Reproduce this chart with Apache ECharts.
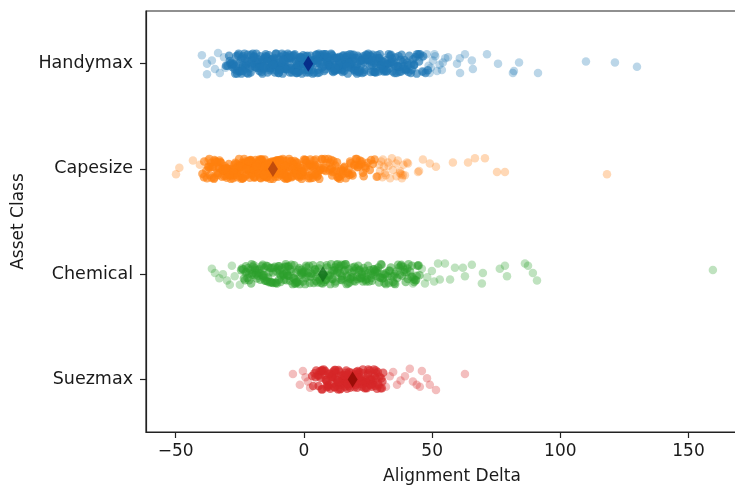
<!DOCTYPE html>
<html>
<head>
<meta charset="utf-8">
<script src="https://cdn.jsdelivr.net/npm/echarts@6/dist/echarts.min.js"></script>
<style>
html,body{margin:0;padding:0;background:#fff;}
#chart{width:735px;height:486px;}
</style>
</head>
<body>
<div id="chart"></div>
<script>
// ---- data ----
const categories = ['Handymax', 'Capesize', 'Chemical', 'Suezmax'];
const meanValues = [1.7, -12.1, 7.4, 19.0];
const xTicks = [-50, 0, 50, 100, 150];

// dense strips (Alignment Delta values)
const handymax = [
  12.4,-7.9,31.6,-22.3,3.7,18.9,-13.5,40.2,-1.8,25.1,
  -27.4,8.6,-4.3,35.8,15.2,-18.7,0.9,22.6,-10.4,44.1,
  6.3,-25.9,29.4,-8.8,13.7,-16.2,38.5,2.2,-20.6,19.8,
  -3.1,27.7,-12.9,10.5,-29.2,33.3,4.8,-6.6,16.9,-23.8,
  41.7,-0.4,21.3,-14.8,9.1,46.2,-19.9,28.2,-5.2,14.6,
  -26.5,36.9,1.6,-11.3,24.4,-9.7,7.4,32.9,-17.4,11.8,
  -2.6,43.5,-21.7,17.6,-8.1,26.8,5.5,-15.6,37.2,-24.6,
  20.5,-6.9,13.1,-28.3,30.7,-3.9,9.8,47.4,-12.1,23.9,
  -18.3,3.0,34.6,-10.8,15.9,-1.1,39.8,-22.9,8.0,26.1,
  -14.2,19.2,-7.3,45.3,0.3,-25.1,12.9,29.9,-4.7,17.1,
  6.9,-16.9,33.9,-9.2,22.0,-2.3,42.6,-20.1,11.2,-13.0,
  27.3,-0.9,15.4,-27.9,36.1,4.1,-6.1,18.4,-11.8,31.1,
  -23.2,10.2,24.9,-4.0,38.9,-15.0,2.8,21.7,-8.4,13.9,
  44.7,-19.3,7.9,29.0,-1.4,16.4,-26.8,34.1,-10.0,5.0,
  19.5,-5.8,40.8,-13.9,25.6,1.3,-21.2,11.5,-7.0,28.6,
  -17.1,35.3,-2.0,14.3,-24.0,9.4,32.2,-11.0,20.9,-0.1,
  48.3,-9.5,23.2,-16.4,6.0,37.7,-3.4,17.9,-28.7,12.1,
  -6.4,26.4,-14.5,3.4,30.2,-19.0,10.8,42.0,-22.1,15.0,
  1.9,-12.6,21.0,-4.5,33.6,8.3,-25.7,18.1,-9.9,39.3,
  -1.0,13.3,-18.0,27.0,5.8,-7.6,24.0,-13.2,36.5,0.6,
  3.5,-20.8,16.2,-9.4,29.6,-2.8,11.1,-15.3,22.3,7.2,
  -24.4,34.9,-6.8,19.4,0.1,-12.3,27.5,-17.8,9.9,41.1,
  -4.9,14.0,-27.0,24.7,-10.6,5.3,31.9,-1.6,17.3,-21.5,
  37.9,-8.6,12.7,-14.0,21.9,2.5,-23.6,28.9,-5.5,10.0,
  -18.4,33.0,-0.7,15.7,-11.6,43.0,6.6,-26.1,23.4,-7.7,
  18.6,-3.7,30.4,-16.6,8.9,-29.8,25.9,-9.0,13.6,39.9,
  -13.7,1.0,22.8,-20.4,35.6,-5.0,16.6,-24.9,10.6,-1.2,
  27.9,-10.9,7.6,-19.6,44.9,3.9,-7.2,20.3,-14.9,32.6,
  -2.4,12.5,-22.6,26.5,-8.3,17.5,-28.0,38.1,1.4,-12.8,
  23.5,-16.0,9.6,-4.2,30.9,-25.3,14.8,-0.3,40.6,-9.8,
  5.6,-19.7,28.3,-11.4,19.9,-6.3,35.0,-23.0,11.9,-2.1,
  46.5,-14.4,2.0,24.5,-17.3,8.5,-27.6,31.5,-5.3,16.0,
  -9.1,20.7,-1.9,37.3,-21.9,13.0,-12.5,26.0,4.5,-30.4,
  33.7,-7.5,18.2,-15.8,6.2,42.9,-3.0,22.4,-24.2,10.4,
  -0.6,29.2,-18.6,14.5,-10.3,1.7,36.8,-26.4,19.0,-4.6,
  25.2,-13.4,8.1,-20.5,32.3,-6.0,15.6,-1.5,44.0,-8.9,
  -16.3,4.7,23.7,-28.9,11.4,-11.9,30.0,2.6,-22.8,17.7,
  39.0,-5.7,13.5,-2.7,26.7,-19.1,7.0,-14.1,21.1,-25.5,
  0.0,34.3,-9.6,16.8,-17.0,5.2,28.0,-7.9,12.2,-3.6,
  41.9,-23.9,20.1,-12.0,9.2,-0.8,31.3,-15.7,24.2,3.2
];
const capesize = [
  -22.4,-8.1,-31.7,2.6,-15.9,-36.2,-3.8,-26.5,-11.2,6.9,
  -18.6,-29.3,-0.7,-13.4,-38.9,-6.2,-21.1,4.3,-33.5,-16.7,
  -9.5,-25.0,8.8,-19.8,-2.9,-35.1,-12.6,-27.8,0.4,-7.3,
  -30.9,-14.8,-23.6,5.7,-17.2,-39.6,-4.6,-20.3,-10.0,-28.7,
  1.8,-24.1,-13.9,-34.0,-6.9,-16.1,9.5,-31.2,-19.0,-1.5,
  -26.0,-11.7,-37.4,3.5,-22.9,-8.7,-15.3,-29.9,-5.1,-18.1,
  7.6,-32.6,-12.1,-24.7,-0.2,-20.8,-36.7,-9.0,-14.2,-27.1,
  -3.3,-17.7,4.9,-30.2,-21.6,-10.6,-38.1,-6.4,-25.6,0.9,
  -13.0,-33.1,-19.4,8.2,-23.2,-4.1,-28.3,-15.0,-11.0,-35.7,
  -7.8,2.1,-26.9,-16.4,-31.9,-2.4,-20.0,6.3,-12.9,-24.4,
  -37.0,-9.8,-18.9,-29.0,3.0,-14.6,-22.1,-5.6,-34.6,-10.3,
  -1.1,-27.4,-16.9,9.9,-23.9,-7.0,-32.3,-13.6,-19.6,5.1,
  -25.3,-3.5,-15.6,-30.5,-8.4,-21.4,1.2,-36.0,-11.9,-17.9,
  7.1,-28.0,-6.6,-22.6,-14.0,-33.8,-0.9,-19.2,-26.2,-9.2,
  -16.0,4.0,-39.0,-12.3,-24.9,-4.9,-29.6,-18.4,2.9,-10.7,
  -14.4,-27.7,1.4,-20.5,-6.0,-33.2,-10.1,-23.3,-2.1,-17.5,
  5.4,-29.1,-12.5,-36.4,-19.3,-7.5,-25.2,0.0,-15.4,-31.0,
  -4.4,-21.8,-11.5,-28.5,3.7,-16.6,-34.9,-8.9,-24.0,-1.8,
  -18.8,-30.7,-6.8,-13.2,6.5,-26.6,-21.0,-3.0,-37.8,-10.4,
  -22.7,-0.5,-15.8,-32.0,-8.2,-19.9,2.4,-27.3,-12.8,-5.3,
  -35.4,-17.0,-24.6,-9.6,4.6,-29.4,-14.9,-2.6,-21.3,-11.4,
  -7.1,-25.8,-18.5,0.7,-33.6,-13.7,-4.8,-22.2,8.5,-16.3,
  -28.6,-10.9,-1.3,-20.7,-31.4,-6.3,-15.1,-24.3,3.2,-12.0,
  -19.0,-36.9,-8.6,-26.3,-0.1,-14.5,-22.8,5.9,-30.1,-4.0,
  -11.3,-17.4,-27.0,1.9,-23.7,-9.3,-34.3,-13.1,-2.0,-20.2,
  10.7,-15.7,-25.4,-6.7,-18.2,-29.8,-3.6,-11.8,-21.9,4.4,
  -32.9,-9.9,-16.8,-1.6,-26.8,-13.3,7.8,-23.1,-5.8,-19.5,
  -14.1,-28.9,-0.8,-10.2,-24.8,-35.0,-7.9,-17.8,2.5,-22.5,
  -4.5,-12.7,-31.5,-20.4,6.0,-16.2,-27.5,-9.4,-2.7,-18.7,
  -25.9,-13.8,0.2,-21.7,-8.0,-30.6,-15.5,3.9,-11.6,-23.8,
  12.3,24.8,17.1,10.9,28.4,20.2,14.6,26.9,
  19.0,11.7,22.5,15.8,13.4,21.6,
  16.5,27.6,10.4,23.3,18.2,25.7,12.9,
  14.0,20.9,11.3,26.2,17.8,23.9,
  13.1,19.6,15.2,11.5,18.7,24.1,14.9,21.8,12.6,16.3,19.8,
  10.1,23.0,15.5,13.7,20.6,17.4,22.4,11.0,14.3,18.0,21.1
];
const chemical = [
  8.4,-14.7,27.9,-3.2,19.6,-21.8,36.4,1.5,-9.1,13.2,
  31.7,-17.5,4.6,42.3,-6.3,22.8,-12.0,16.0,-23.4,38.0,
  -0.6,25.4,-19.1,10.1,33.9,-4.4,18.7,-15.9,44.6,6.2,
  -10.7,29.3,-2.2,14.8,-22.6,40.5,2.9,-7.7,21.2,-16.3,
  35.2,11.9,-13.3,26.3,-0.1,43.0,-20.4,7.5,17.4,-5.5,
  23.6,-11.4,39.1,3.8,-18.2,30.6,12.6,-8.3,20.0,-24.2,
  9.3,37.1,-1.7,28.5,-14.0,15.5,-6.9,41.4,5.3,-20.9,
  32.6,-9.6,18.0,-16.8,24.1,0.8,44.0,-3.6,11.0,-12.7,
  -22.0,14.1,34.8,-7.1,26.8,4.2,-15.2,19.1,38.6,-0.3,
  6.7,-18.9,22.2,-4.9,31.0,12.4,-10.2,45.1,1.0,16.6,
  -13.6,29.8,8.9,-23.0,36.0,-2.7,21.7,-8.9,13.8,42.8,
  3.3,-17.0,25.0,-5.9,17.2,33.2,-11.9,7.0,-20.0,39.7,
  10.6,-1.3,27.1,-14.4,20.6,-7.4,40.0,2.3,-24.5,15.0,
  30.3,-9.3,23.0,5.9,-16.0,12.0,35.6,-3.0,18.4,-19.6,
  43.7,0.2,-12.4,28.1,9.7,-6.0,24.6,-21.3,14.4,37.8,
  16.9,-10.5,33.5,-1.9,22.5,-17.7,8.0,40.8,-6.5,27.4,
  -14.9,4.9,19.8,-22.4,31.4,11.6,-3.9,36.7,-8.0,24.3,
  13.5,-19.3,29.0,0.5,-12.1,21.9,6.4,43.4,-5.1,17.8,
  -0.9,34.2,-16.5,10.9,26.1,-9.8,2.0,38.3,-20.6,15.7,
  23.3,-4.1,12.8,-13.9,30.0,7.8,-23.7,19.4,41.9,-7.0,
  5.0,-11.1,25.8,-18.4,14.6,35.4,-2.4,20.4,-15.6,9.0,
  32.0,-6.7,17.0,3.5,-21.4,28.8,-10.9,39.3,1.8,-14.2,
  11.3,24.9,-3.3,44.3,-17.9,7.3,21.5,-8.6,30.8,-1.0,
  -12.9,16.3,37.4,-5.3,26.6,2.6,-19.8,13.1,33.1,-9.5,
  6.0,-16.1,22.6,-0.4,40.3,-7.8,18.9,10.3,-22.8,29.6,
  -3.8,14.9,27.7,-13.1,4.4,35.0,-10.0,20.8,-18.6,8.6,
  42.1,-6.2,12.2,23.8,-15.4,0.6,31.9,-2.9,16.1,-20.3
];
const suezmax = [
  14.2,6.8,22.9,10.3,27.6,4.1,18.5,30.2,12.0,25.1,
  8.7,20.4,3.6,16.1,28.8,11.4,23.7,5.9,19.3,13.5,
  26.4,9.5,21.2,15.3,30.9,7.2,17.8,24.3,4.8,12.7,
  29.5,18.0,10.9,22.1,6.1,25.8,14.9,20.0,8.3,27.0,
  16.8,3.2,23.1,11.8,28.2,19.7,7.7,13.0,24.9,17.3,
  9.0,21.7,15.8,30.4,5.4,26.8,12.3,19.0,22.6,10.1,
  18.9,27.9,14.0,6.5,24.0,16.5,29.1,11.1,20.8,8.0,
  23.4,13.8,17.0,25.5,9.8,21.0,15.6,28.5,19.9,12.5,
  15.1,22.2,8.9,27.3,12.9,19.5,5.7,24.6,17.6,10.6,
  29.9,14.6,21.4,7.0,25.9,16.0,11.7,23.9,18.4,6.9,
  20.7,13.2,28.0,9.2,17.9,24.2,15.4,30.6,11.5,22.8,
  18.2,26.1,7.5,21.9,14.4,10.8,25.0,16.9,19.8,12.0,
  23.0,8.5,17.2,27.7,13.6,20.3,4.5,24.5,15.9,29.0,
  11.9,19.1,26.5,9.7,22.4,16.3,13.3,21.5,18.6,25.7
];

// sparse / outlying points: [value, strip offset]
const handymaxTail = [
  [49.5,.04],[51.2,-.07],[46.8,.08],[52.9,.01],[50.3,-.03],[53.8,.06],[47.9,-.09],
  [55.1,-.05],[49.0,.09],[54.2,-.01],[45.8,-.06],[51.9,.07],[48.6,.02],[50.9,-.09],
  [56.2,-.06],[59.7,0],[60.8,-.05],[60.9,.09],[62.8,-.09],[65.5,-.03],[65.9,.05],
  [71.4,-.09],[75.7,0],[81.9,.07],[83.9,-.01],[81.5,.09],[91.3,.09],
  [110.0,-.02],[121.3,-.01],[129.9,.03],
  [-39.8,-.08],[-37.8,0],[-37.8,.1],[-35.9,-.03],[-33.5,-.1],[-32.8,.09],[-34.7,.05],
  [-31.2,-.06],[-30.6,.04]
];
const capesizeTail = [
  [-49.9,.05],[-48.6,-.01],[-43.3,-.08],[-40.6,-.04],[-38.6,.06],[-37.5,-.08],
  [28.9,.07],[29.4,-.04],[29.7,.02],[30.1,-.07],[30.6,.08],[31.2,-.02],[31.9,.06],
  [33.0,-.03],[33.6,.09],[34.7,.01],[35.9,-.05],[36.1,.07],[36.6,-.08],[37.5,.02],[38.8,-.04],[39.4,.06],
  [30.8,-.09],[34.3,-.1],[32.8,-.06],[40.2,-.06],[31.6,.04],[37.4,.04],[37.9,.05],[38.6,.06],
  [38.2,.09],[40.6,-.05],[44.5,.03],[44.9,.02],[46.4,-.09],[49.1,-.05],[51.5,-.02],
  [58.1,-.06],[64.0,-.06],[66.7,-.1],[70.6,-.1],[75.3,.03],[78.4,.03],[118.2,.05]
];
const chemicalTail = [
  [-35.9,-.05],[-34.7,-.01],[-33.0,.04],[-31.6,0],[-30.0,.06],[-28.9,.1],[-28.1,-.08],[-27.0,.02],[-25.0,.1],
  [42.5,.09],[44.8,-.08],[46.0,-.05],[47.2,.09],[48.1,.03],[49.9,-.03],[50.8,.07],[52.3,-.1],
  [53.0,.05],[55.0,-.1],[57.0,.05],[58.9,-.06],[62.0,-.06],[62.8,.02],[65.5,-.09],
  [69.4,.09],[69.8,-.01],[76.4,-.05],[78.4,-.08],[79.2,.02],[86.2,-.1],[87.4,-.08],
  [89.3,-.01],[90.9,.06],[159.5,-.04]
];
const suezmaxTail = [
  [-4.3,-.05],[-1.6,.05],[-0.4,-.08],[0.6,-.02],[1.5,.02],[2.4,.08],
  [32.0,.07],[33.5,-.03],[34.8,-.07],[36.3,.05],[37.7,.01],[39.4,-.03],[41.3,-.1],
  [42.5,.02],[44.0,.05],[45.2,.07],[46.0,-.08],[48.0,-.01],[49.1,.05],[51.5,.1],[62.8,-.05]
];

// ---- presentation ----
const JITTER = [.053,-.079,.016,.090,-.032,-.058,.037,-.011,.074,-.095,.005,-.047,.063,.026,-.069,-.021,.085,-.037,.042,-.090,0,.069,-.053,.011,-.063,.095,-.016,.032,-.085,.058,-.026,.079,-.042,.021,-.074,.047,-.005];
const colors = ['#1f77b4','#ff7f0e','#2ca02c','#d62728'];
const darkColors = ['#001c7f','#b1400d','#12711c','#8c0800'];
const coreOpacity = [0.65, 0.65, 0.5, 0.65];
const dense = [handymax, capesize, chemical, suezmax];
const tails = [handymaxTail, capesizeTail, chemicalTail, suezmaxTail];
const FONT = 'DejaVu Sans';
const TXT = '#1a1a1a';
const AX = '#222';

const series = [];
categories.forEach((c, i) => {
  series.push({
    type: 'scatter', name: c, xAxisIndex: 0, yAxisIndex: 0,
    data: tails[i].map(p => [p[0], i + p[1]]),
    symbol: 'circle', symbolSize: 8.5,
    itemStyle: { color: colors[i], opacity: 0.3 }, silent: true
  });
  series.push({
    type: 'scatter', name: c, xAxisIndex: 0, yAxisIndex: 0,
    data: dense[i].map((v, k) => [v, i + JITTER[k % JITTER.length]]),
    symbol: 'circle', symbolSize: 8.5,
    itemStyle: { color: colors[i], opacity: coreOpacity[i] }, silent: true
  });
});
series.push({
  type: 'scatter', name: 'mean', xAxisIndex: 0, yAxisIndex: 0,
  data: meanValues.map((m, i) => ({ value: [m, i], itemStyle: { color: darkColors[i] } })),
  symbol: 'diamond', symbolSize: [10, 16], z: 5, silent: true
});

const chart = echarts.init(document.getElementById('chart'), null, { renderer: 'canvas' });
chart.setOption({
  animation: false,
  backgroundColor: '#fff',
  grid: {
    left: 146, top: 11, width: 612, height: 421,
    containLabel: false, outerBoundsMode: 'none',
    show: true, borderColor: AX, borderWidth: 1.2, backgroundColor: 'transparent'
  },
  xAxis: {
    type: 'value', min: -61.6, max: 177.1, splitNumber: 5, position: 'bottom',
    axisLine: { show: true, onZero: false, lineStyle: { color: AX, width: 1.2 } },
    axisTick: { show: true, length: 6, lineStyle: { color: AX, width: 1.2 } },
    splitLine: { show: false },
    axisLabel: {
      show: true, margin: 11, fontFamily: FONT, fontSize: 17, color: TXT,
      showMinLabel: false, showMaxLabel: false,
      formatter: v => xTicks.indexOf(v) >= 0 ? (v < 0 ? '\u2212' + Math.abs(v) : String(v)) : ''
    },
    name: 'Alignment Delta', nameLocation: 'middle', nameGap: 36,
    nameTextStyle: { fontFamily: FONT, fontSize: 17, color: TXT }
  },
  yAxis: [
    { type: 'value', min: -0.5, max: 3.5, inverse: true, show: false, position: 'left' },
    {
      type: 'category', data: categories, inverse: true, boundaryGap: true, position: 'left',
      axisLine: { show: true, onZero: false, lineStyle: { color: AX, width: 1.2 } },
      axisTick: { show: true, alignWithLabel: true, length: 6, lineStyle: { color: AX, width: 1.2 } },
      axisLabel: { margin: 13, fontFamily: FONT, fontSize: 17.5, color: TXT },
      splitLine: { show: false },
      name: 'Asset Class', nameLocation: 'middle', nameGap: 112, nameRotate: 90,
      nameTextStyle: { fontFamily: FONT, fontSize: 17, color: TXT }
    }
  ],
  series: series
});
</script>
</body>
</html>
